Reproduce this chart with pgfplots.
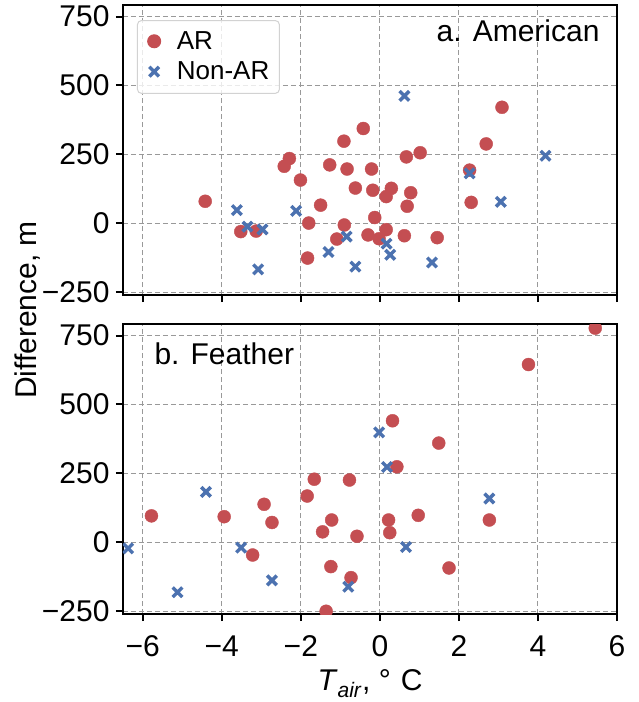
\documentclass[border=0pt]{standalone}
\usepackage{fontspec}
\setmainfont{Liberation Sans}
\usepackage{pgfplots}
\usepackage{pgfplotstable}
\pgfplotsset{compat=1.18}

\definecolor{arred}{RGB}{196,78,82}
\definecolor{arblue}{RGB}{76,114,176}

% Snow-line difference vs. air temperature, American basin
\pgfplotstableread{
x y
-4.42 80
-3.52 -30
-3.13 -28
-2.42 207
-2.29 235
-2.01 157
-1.80 1
-1.83 -126
-1.50 66
-1.27 212
-1.09 -57
-0.91 298
-0.90 -6
-0.83 197
-0.62 128
-0.42 344
-0.21 197
-0.18 120
-0.13 21
-0.30 -42
-0.02 -56
0.16 -23
0.16 97
0.29 127
0.67 241
1.02 256
0.78 111
0.69 62
0.62 -45
1.45 -52
2.27 193
2.31 76
2.69 288
3.09 421
}\amerAR
\pgfplotstableread{
x y
-3.62 48
-3.35 -12
-2.97 -22
-3.08 -167
-2.12 45
-1.30 -104
-0.84 -48
-0.62 -157
0.62 462
0.17 -74
0.26 -114
1.32 -142
2.27 181
3.06 78
4.19 245
}\amerNon
% Feather basin
\pgfplotstableread{
x y
-5.78 96
-3.94 93
-2.93 138
-2.73 72
-3.22 -46
-1.84 168
-1.66 229
-1.22 81
-1.45 38
-0.77 226
-0.58 22
-1.24 -88
-0.73 -128
-1.36 -250
5.45 777
3.76 645
0.32 441
1.49 360
0.43 274
0.22 81
0.25 35
0.97 98
2.77 81
1.75 -93
}\featAR
\pgfplotstableread{
x y
-6.37 -22
-5.12 -181
-4.40 183
-3.51 -19
-2.73 -138
-0.80 -161
-0.02 399
0.18 273
0.66 -17
2.77 159
}\featNon

\pgfplotsset{
  panel/.style={
    scale only axis, width=494pt, height=290pt,
    xmin=-6.5, xmax=6, ymin=-260, ymax=792,
    xtick={-6,-4,-2,0,2,4,6},
    ytick={-250,0,250,500,750},
    yticklabels={−250,0,250,500,750},
    tick align=outside, tick pos=left,
    major tick length=7pt,
    every tick/.style={black, line width=2pt},
    axis line style={line width=2.4pt},
    grid=major,
    major grid style={gray!80, line width=1pt, dash pattern=on 5pt off 3pt},
    tick label style={font=\fontsize{30}{32}\selectfont},
    xticklabel style={yshift=-11pt},
    yticklabel style={xshift=-3pt},
    clip marker paths=true,
    anchor=south west,
  },
  arstyle/.style={only marks, mark=*, mark size=6.5pt, draw=arred, fill=arred,
    mark options={draw=arred, fill=arred}},
  nonstyle/.style={only marks, mark=x, mark size=6.8pt, line width=3.4pt, draw=arblue,
    mark options={line width=3.4pt, draw=arblue}},
}

\begin{document}
\begin{tikzpicture}
\path[use as bounding box] (-123pt,-407pt) rectangle (516pt,295pt);

\begin{axis}[panel, at={(0pt,0pt)},
  xticklabels={},
  legend image code/.code={%
    \path (0pt,-10pt) (26pt,10pt);
    \draw[mark repeat=2,mark phase=2,#1] plot coordinates {(0pt,0pt)(12pt,0pt)(24pt,0pt)};},
  legend image post style={fill opacity=1, draw opacity=1},
  legend style={at={(axis description cs:0.0283,0.948)}, anchor=north west,
    draw=gray!35, line width=1pt, rounded corners=4pt,
    fill=white, fill opacity=0.8, text opacity=1,
    font=\fontsize{26}{30}\selectfont, cells={anchor=west},
    inner xsep=3pt, inner ysep=10pt, row sep=8pt,
    nodes={inner xsep=7pt, inner ysep=1pt}},
]
\addplot[arstyle] table {\amerAR};
\addlegendentry{AR}
\addplot[nonstyle] table {\amerNon};
\addlegendentry{Non-AR}
\node[anchor=base east, font=\fontsize{30}{32}\selectfont] at (axis description cs:0.9717,0.873) {a. American};
\end{axis}

\begin{axis}[panel, at={(0pt,-319pt)},
  xticklabels={−6,−4,−2,0,2,4,6},
  xlabel={\textit{T}\textsubscript{\textit{air}}, °\,\,C},
  xlabel style={font=\fontsize{30}{32}\selectfont, yshift=-6pt},
]
\addplot[arstyle] table {\featAR};
\addplot[nonstyle] table {\featNon};
\node[anchor=base west, font=\fontsize{30}{32}\selectfont] at (axis description cs:0.0567,0.862) {b. Feather};
\end{axis}

\node[rotate=90, font=\fontsize{30}{32}\selectfont] at (-95pt,-15pt) {Difference, m};
\end{tikzpicture}
\end{document}
